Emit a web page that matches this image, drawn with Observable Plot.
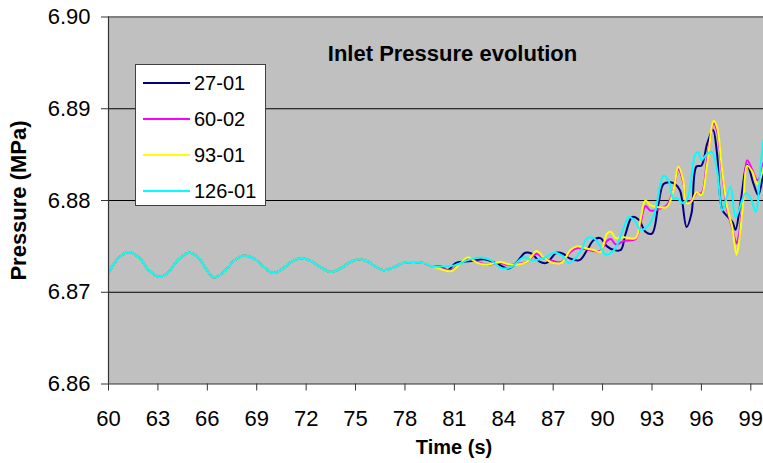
<!DOCTYPE html>
<html><head><meta charset="utf-8">
<script src="https://cdn.jsdelivr.net/npm/d3@7"></script>
<script src="https://cdn.jsdelivr.net/npm/@observablehq/plot@0.6"></script>
<style>
body{margin:0;background:#fff;overflow:hidden;font-family:"Liberation Sans",Arial,sans-serif}
#wrap{position:relative;width:763px;height:463px}
#legend{position:absolute;left:135px;top:64px;width:129px;height:140px;background:#fff;border:1px solid #404040}
.row{position:absolute;left:7px;height:20px;display:flex;align-items:center}
.sw{width:47px;height:2px;margin-right:4px}
.lab{font-size:20px;line-height:20px;color:#000}
</style></head>
<body><div id="wrap"></div>
<script>
const seriesNames = ["27-01", "60-02", "93-01", "126-01"];
const xTicks = [60, 63, 66, 69, 72, 75, 78, 81, 84, 87, 90, 93, 96, 99];
const yTicks = [6.86, 6.87, 6.88, 6.89, 6.90];

// Common part (all four runs coincide), 60 - 80 s
const tCommon = [60.0, 60.6, 61.2, 61.9, 62.4, 63.05, 63.6, 64.2, 64.9, 65.5, 65.9, 66.4, 67.0, 67.6, 68.2, 68.8, 69.4, 70.0, 70.6, 71.1, 71.7, 72.3, 72.9, 73.5, 74.1, 74.6, 75.2, 75.8, 76.2, 76.7, 77.3, 77.9, 78.5, 79.1, 79.7];
const pCommon = [6.8721, 6.8737, 6.8744, 6.8737, 6.8725, 6.8717, 6.8721, 6.8735, 6.8743, 6.8737, 6.8726, 6.8716, 6.8722, 6.8734, 6.8740, 6.8737, 6.8728, 6.8721, 6.8726, 6.8733, 6.8737, 6.8734, 6.8727, 6.8722, 6.8726, 6.8732, 6.8736, 6.8733, 6.8728, 6.8724, 6.8727, 6.8732, 6.8733, 6.8732, 6.8728];

// 27-01
const t2701 = [80.2, 80.6, 81.1, 82.0, 82.8, 83.5, 84.3, 84.8, 85.3, 85.7, 86.2, 86.6, 87.2, 87.6, 88.0, 88.6, 89.06, 89.46, 89.87, 90.27, 90.7, 91.1, 91.4, 91.8, 92.2, 92.6, 93.0, 93.4, 93.7, 94.1, 94.4, 94.7, 95.1, 95.4, 95.7, 96.0, 96.35, 96.7, 96.95, 97.26, 97.56, 97.9, 98.07, 98.37, 98.78, 99.15, 99.45, 99.77];
const p2701 = [6.8728, 6.8724, 6.8732, 6.8734, 6.8736, 6.8732, 6.8726, 6.8733, 6.8743, 6.8742, 6.8733, 6.8732, 6.8743, 6.8742, 6.8737, 6.8735, 6.8746, 6.8757, 6.8759, 6.8750, 6.8746, 6.8746, 6.8764, 6.8782, 6.8779, 6.8766, 6.8764, 6.8797, 6.8818, 6.8820, 6.8818, 6.8811, 6.8771, 6.8786, 6.8837, 6.8838, 6.8862, 6.8877, 6.8851, 6.8790, 6.8783, 6.8776, 6.8768, 6.8797, 6.8839, 6.8819, 6.8806, 6.8833];

// 60-02
const t6002 = [80.2, 80.8, 81.3, 81.8, 82.4, 83.0, 83.8, 84.2, 84.7, 85.4, 86.0, 86.4, 87.0, 87.5, 88.05, 88.45, 88.96, 89.46, 89.87, 90.27, 90.5, 90.8, 91.3, 92.0, 92.3, 92.6, 92.9, 93.3, 93.9, 94.3, 94.6, 94.9, 95.1, 95.4, 95.7, 96.0, 96.35, 96.75, 96.95, 97.26, 97.56, 97.87, 98.13, 98.27, 98.57, 98.78, 99.1, 99.4, 99.77];
const p6002 = [6.8726, 6.8724, 6.8730, 6.8736, 6.8733, 6.8730, 6.8732, 6.8730, 6.8731, 6.8733, 6.8742, 6.8737, 6.8734, 6.8733, 6.8744, 6.8748, 6.8747, 6.8745, 6.8745, 6.8756, 6.8758, 6.8752, 6.8756, 6.8758, 6.8775, 6.8794, 6.8789, 6.8790, 6.8795, 6.8812, 6.8834, 6.8820, 6.8799, 6.8800, 6.8808, 6.8808, 6.8845, 6.8884, 6.8876, 6.8830, 6.8790, 6.8770, 6.8753, 6.8762, 6.8810, 6.8844, 6.8833, 6.8822, 6.8841];

// 93-01
const t9301 = [80.2, 80.8, 81.3, 81.8, 82.4, 83.0, 83.8, 84.2, 84.7, 85.4, 86.0, 86.4, 87.0, 87.5, 88.05, 88.45, 88.96, 89.46, 89.87, 90.27, 90.5, 90.8, 91.3, 92.0, 92.3, 92.6, 92.9, 93.3, 93.9, 94.3, 94.6, 94.9, 95.1, 95.4, 95.7, 96.0, 96.35, 96.75, 96.95, 97.26, 97.56, 97.87, 98.13, 98.27, 98.57, 98.78, 99.1, 99.4, 99.77];
const p9301 = [6.8725, 6.8723, 6.8730, 6.8738, 6.8732, 6.8730, 6.8733, 6.8731, 6.8730, 6.8733, 6.8745, 6.8738, 6.8732, 6.8732, 6.8746, 6.8750, 6.8748, 6.8746, 6.8744, 6.8764, 6.8766, 6.8759, 6.8760, 6.8759, 6.8779, 6.8800, 6.8795, 6.8793, 6.8793, 6.8811, 6.8837, 6.8822, 6.8797, 6.8799, 6.8809, 6.8806, 6.8840, 6.8887, 6.8880, 6.8833, 6.8793, 6.8771, 6.8741, 6.8753, 6.8804, 6.8838, 6.8831, 6.8818, 6.8836];

// 126-01
const t12601 = [80.2, 80.97, 81.8, 82.6, 83.2, 83.9, 84.5, 85.2, 85.7, 86.4, 87.1, 87.6, 87.95, 88.65, 89.06, 89.46, 89.87, 90.17, 90.7, 91.3, 91.6, 92.0, 92.3, 92.8, 93.2, 93.7, 94.0, 94.3, 94.5, 94.9, 95.2, 95.6, 95.8, 96.0, 96.35, 96.65, 96.95, 97.26, 97.46, 97.77, 98.07, 98.27, 98.68, 98.98, 99.3, 99.6, 99.77];
const p12601 = [6.8728, 6.8729, 6.8735, 6.8738, 6.8735, 6.8726, 6.8728, 6.8738, 6.8735, 6.8737, 6.8743, 6.8739, 6.8732, 6.8744, 6.8759, 6.8759, 6.8750, 6.8741, 6.8746, 6.8771, 6.8782, 6.8777, 6.8768, 6.8773, 6.8789, 6.8827, 6.8822, 6.8802, 6.8803, 6.8797, 6.8804, 6.8849, 6.8853, 6.8844, 6.8851, 6.8853, 6.8833, 6.8789, 6.8799, 6.8815, 6.8782, 6.8789, 6.8808, 6.8803, 6.8788, 6.8840, 6.8866];

function build(name, ts, ps) {
  const rows = tCommon.map((t, i) => ({series: name, t, p: pCommon[i]}));
  ts.forEach((t, i) => rows.push({series: name, t, p: ps[i]}));
  return rows;
}
const data = [
  ...build("27-01", t2701, p2701),
  ...build("60-02", t6002, p6002),
  ...build("93-01", t9301, p9301),
  ...build("126-01", t12601, p12601)
];
const colors = ["#000080", "#FF00FF", "#FFFF00", "#00FFFF"];

const chart = Plot.plot({
  width: 763,
  height: 463,
  marginLeft: 108,
  marginRight: 0,
  marginTop: 16.5,
  marginBottom: 79.5,
  style: {fontFamily: "'Liberation Sans', Arial, sans-serif", fontSize: "22px", background: "transparent", color: "#000"},
  x: {domain: [60, 99.77]},
  y: {domain: [6.86, 6.90]},
  color: {domain: seriesNames, range: colors},
  marks: [
    Plot.frame({fill: "#C0C0C0", stroke: null}),
    Plot.ruleY(yTicks.slice(1, 4), {stroke: "#000", strokeWidth: 1.2}),
    Plot.ruleY(yTicks.slice(4), {stroke: "#808080", strokeWidth: 2}),
    ...seriesNames.map(s => Plot.line(data.filter(d => d.series === s), {x: "t", y: "p", stroke: "series", strokeWidth: 2, curve: "catmull-rom", clip: true})),
    Plot.ruleX([60], {stroke: "#333", strokeWidth: 1.2}),
    Plot.ruleY([6.86], {stroke: "#333", strokeWidth: 1.2}),
    Plot.axisX({ticks: xTicks, tickSize: 7, tickPadding: 19, fontSize: 22, label: null, stroke: "#333"}),
    Plot.axisY({ticks: yTicks, tickFormat: d => d.toFixed(2), tickSize: 7, tickPadding: 11, fontSize: 22, label: null, stroke: "#333"}),
    Plot.text(["Inlet Pressure evolution"], {frameAnchor: "top", dx: 16.5, dy: 37.3, lineAnchor: "middle", textAnchor: "middle", fontWeight: "bold", fontSize: 22}),
    Plot.text(["Time (s)"], {frameAnchor: "bottom", dx: 18, dy: 63.5, lineAnchor: "middle", textAnchor: "middle", fontWeight: "bold", fontSize: 20}),
    Plot.text(["Pressure (MPa)"], {frameAnchor: "left", dx: -90, rotate: -90, lineAnchor: "middle", textAnchor: "middle", fontWeight: "bold", fontSize: 22})
  ]
});
const wrap = document.getElementById("wrap");
wrap.appendChild(chart);

const legend = document.createElement("div");
legend.id = "legend";
const centers = [18.3, 54.3, 90, 126];
seriesNames.forEach((s, i) => {
  const row = document.createElement("div");
  row.className = "row";
  row.style.top = (centers[i] - 10) + "px";
  const sw = document.createElement("div");
  sw.className = "sw";
  sw.style.background = colors[i];
  const lab = document.createElement("span");
  lab.className = "lab";
  lab.textContent = s;
  row.appendChild(sw);
  row.appendChild(lab);
  legend.appendChild(row);
});
wrap.appendChild(legend);
</script>
</body></html>
